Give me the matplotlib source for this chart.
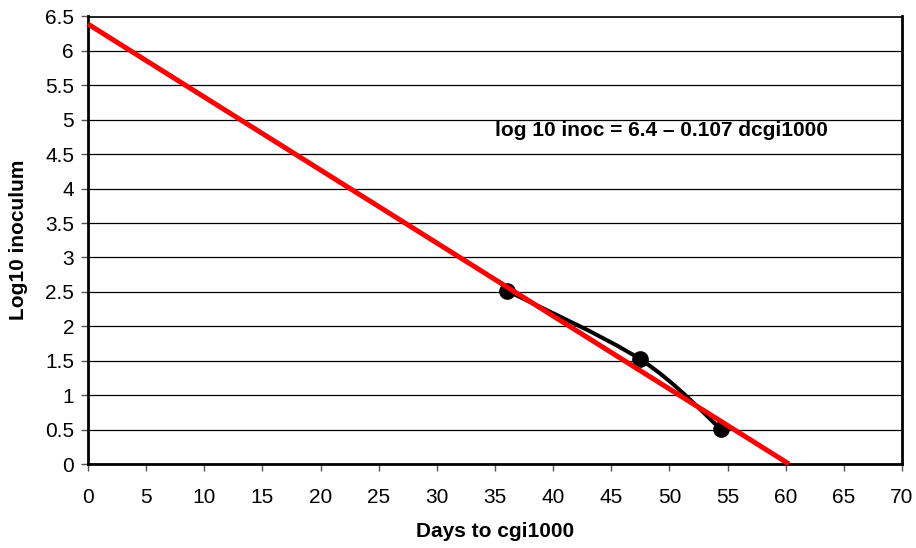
import numpy as np
import matplotlib
matplotlib.use('Agg')
import matplotlib.pyplot as plt
from matplotlib.path import Path
from matplotlib.patches import PathPatch

plt.rcParams['font.family'] = ['Liberation Sans', 'DejaVu Sans']

# observed points
days = [36.0, 47.5, 54.4]
log_inoc = [2.52, 1.52, 0.51]

# fitted line (as drawn)
intercept = 6.39
slope = -0.106
equation = 'log 10 inoc = 6.4 \u2013 0.107 dcgi1000'

x_ticks = list(range(0, 71, 5))
y_ticks = [i * 0.5 for i in range(14)]


def smooth_path(xs, ys, t=1 / 6):
    # Catmull-Rom style bezier through points, like a smoothed line
    pts = np.column_stack([xs, ys])
    verts = [pts[0]]
    codes = [Path.MOVETO]
    n = len(pts)
    for i in range(n - 1):
        p0 = pts[i - 1] if i > 0 else pts[i]
        p1 = pts[i]
        p2 = pts[i + 1]
        p3 = pts[i + 2] if i + 2 < n else pts[i + 1]
        c1 = p1 + (p2 - p0) * t
        c2 = p2 - (p3 - p1) * t
        verts += [c1, c2, p2]
        codes += [Path.CURVE4] * 3
    return Path(verts, codes)


fig = plt.figure(figsize=(9.16, 5.48), dpi=100)
ax = fig.add_axes([88 / 916, 1 - 464 / 548, (902 - 88) / 916, (464 - 16.5) / 548])

ax.set_xlim(0, 70)
ax.set_ylim(0, 6.5)
ax.set_xticks(x_ticks)
ax.set_yticks(y_ticks)
ax.set_yticklabels(['%g' % v for v in y_ticks])
ax.tick_params(direction='out', length=5, width=1, color='#555555', labelsize=15)
ax.tick_params(axis='x', pad=12)
ax.tick_params(axis='y', pad=5)
ax.yaxis.grid(True, color='black', linewidth=0.9)
ax.set_axisbelow(True)
for s in ax.spines.values():
    s.set_color('black')
    s.set_linewidth(2.0)
ax.spines['top'].set_linewidth(1.2)

# smoothed black line + markers
patch = PathPatch(smooth_path(days, log_inoc), facecolor='none', edgecolor='black',
                  linewidth=2.9, zorder=3)
ax.add_patch(patch)
ax.plot(days, log_inoc, 'o', color='black', markersize=11, zorder=4)

# regression line
x_end = -intercept / slope
xs = np.array([0, x_end])
ax.plot(xs, intercept + slope * xs, color='#ff0000', linewidth=3.6, zorder=5,
        solid_capstyle='butt', clip_on=False)

ax.text(49.3, 4.84, equation, ha='center', va='center', fontsize=15, fontweight='bold')

ax.set_xlabel('Days to cgi1000', fontsize=15, fontweight='bold', labelpad=11)
ax.set_ylabel('Log10 inoculum', fontsize=15, fontweight='bold', labelpad=12)

fig.savefig('out.png', dpi=100)
